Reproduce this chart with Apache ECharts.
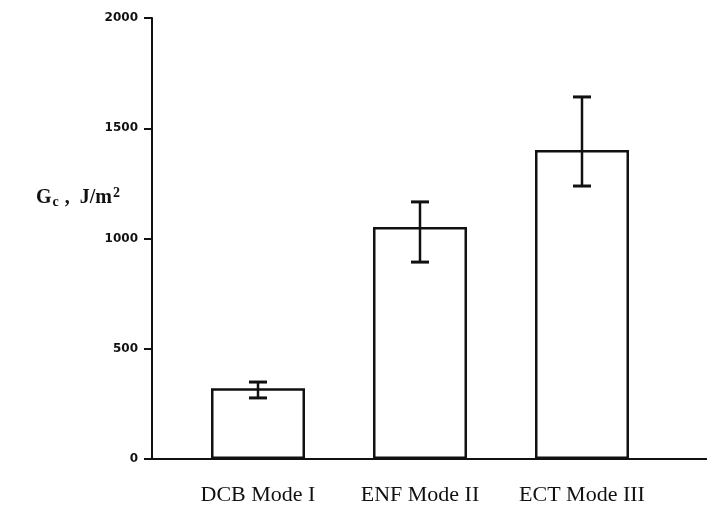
<!DOCTYPE html>
<html>
<head>
<meta charset="utf-8">
<script src="https://cdn.jsdelivr.net/npm/echarts@6/dist/echarts.min.js"></script>
<style>
  html, body { margin: 0; padding: 0; background: #fff; }
  #chart { width: 707px; height: 512px; }
</style>
</head>
<body>
<div id="chart"></div>
<script>
// 数据
const categories = ['DCB Mode I', 'ENF Mode II', 'ECT Mode III'];
const gcValues = [321, 1052, 1401];
const errLow = [277, 893, 1238];
const errHigh = [349, 1166, 1642];
const yTicks = [0, 500, 1000, 1500, 2000];

const chart = echarts.init(document.getElementById('chart'));

const errData = categories.map((c, i) => [i, errLow[i], errHigh[i]]);

const option = {
  animation: false,
  backgroundColor: '#fff',
  title: {
    left: 31,
    top: 180,
    text: '{g|G}{sub|c}{g| ,  J/m}{sup|2}',
    textStyle: {
      rich: {
        g: { fontFamily: 'Liberation Serif', fontSize: 20, fontWeight: 'bold', color: '#111', lineHeight: 26 },
        sub: { fontFamily: 'Liberation Serif', fontSize: 14, fontWeight: 'bold', color: '#111', lineHeight: 26, padding: [8, 1, 0, 1] },
        sup: { fontFamily: 'Liberation Serif', fontSize: 14, fontWeight: 'bold', color: '#111', lineHeight: 26, padding: [0, 0, 10, 1] }
      }
    }
  },
  // grid0: 坐标轴；grid1: 柱子
  grid: [
    { left: 152, right: 0, top: 18, bottom: 53 },
    { left: 177, right: 44, top: 18, bottom: 53 }
  ],
  xAxis: [
    {
      gridIndex: 0, type: 'category', data: [''],
      axisLine: { lineStyle: { color: '#111', width: 2 } },
      axisTick: { show: false }, axisLabel: { show: false }
    },
    {
      gridIndex: 1, type: 'category', data: categories,
      axisLine: { show: false }, axisTick: { show: false },
      axisLabel: {
        interval: 0, hideOverlap: false,
        margin: 25, color: '#111',
        fontFamily: 'Liberation Serif', fontSize: 22
      }
    }
  ],
  yAxis: [
    {
      gridIndex: 0, type: 'value',
      min: yTicks[0], max: yTicks[yTicks.length - 1], interval: 500,
      axisLine: { show: true, lineStyle: { color: '#111', width: 2 } },
      axisTick: { show: true, length: 8, lineStyle: { color: '#111', width: 2 } },
      axisLabel: {
        margin: 14, color: '#111',
        fontFamily: 'DejaVu Sans', fontWeight: 'bold', fontSize: 12,
        formatter: v => String(v)
      },
      splitLine: { show: false }
    },
    {
      gridIndex: 1, type: 'value',
      min: yTicks[0], max: yTicks[yTicks.length - 1],
      show: false, splitLine: { show: false }
    }
  ],
  series: [
    {
      type: 'bar', xAxisIndex: 1, yAxisIndex: 1,
      data: gcValues, barWidth: 94,
      itemStyle: { color: '#fff', borderColor: '#111', borderWidth: 2.5 }
    },
    {
      type: 'custom', xAxisIndex: 1, yAxisIndex: 1,
      data: errData, z: 10,
      renderItem: (params, api) => {
        const x = api.value(0);
        const lo = api.coord([x, api.value(1)]);
        const hi = api.coord([x, api.value(2)]);
        const hw = 9;
        const capStyle = { stroke: '#111', lineWidth: 3 };
        return {
          type: 'group',
          children: [
            { type: 'line', shape: { x1: lo[0], y1: lo[1], x2: hi[0], y2: hi[1] }, style: { stroke: '#111', lineWidth: 2.5 } },
            { type: 'line', shape: { x1: hi[0] - hw, y1: hi[1], x2: hi[0] + hw, y2: hi[1] }, style: capStyle },
            { type: 'line', shape: { x1: lo[0] - hw, y1: lo[1], x2: lo[0] + hw, y2: lo[1] }, style: capStyle }
          ]
        };
      }
    }
  ]
};

chart.setOption(option);
</script>
</body>
</html>
